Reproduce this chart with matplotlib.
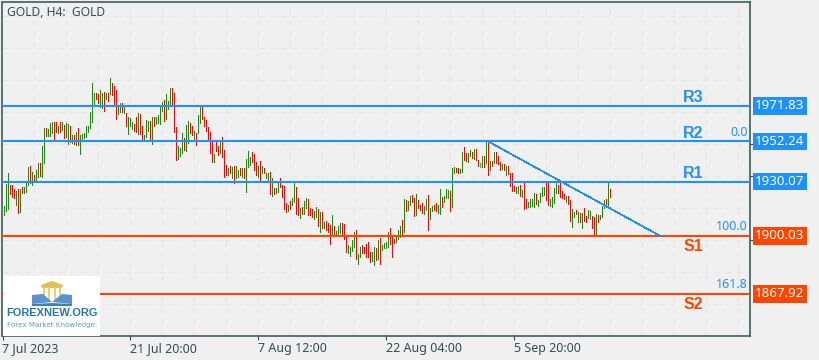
import matplotlib
matplotlib.use('Agg')
import matplotlib.pyplot as plt
from matplotlib.patches import Rectangle, Polygon

# high / low of every H4 bar
bar_high = [
    1916.6, 1928.7, 1934.8, 1928.2, 1928.2, 1926.0, 1924.9, 1926.0, 1926.0, 1927.1,
    1927.1, 1929.3, 1938.1, 1938.7, 1935.4, 1933.7, 1936.5, 1940.3, 1940.3, 1949.7,
    1959.7, 1959.7, 1959.1, 1962.4, 1963.0, 1963.0, 1963.0, 1960.8, 1963.0, 1963.0,
    1961.3, 1962.4, 1961.9, 1960.8, 1955.8, 1955.8, 1957.5, 1959.7, 1955.8, 1956.4,
    1956.9, 1960.8, 1960.8, 1968.5, 1984.5, 1979.0, 1979.0, 1978.5, 1980.7, 1979.0,
    1979.6, 1979.0, 1979.0, 1987.3, 1984.5, 1982.9, 1980.7, 1971.8, 1973.5, 1973.5,
    1971.3, 1968.0, 1965.8, 1965.2, 1963.0, 1961.9, 1965.8, 1968.0, 1967.4, 1960.8,
    1955.8, 1964.1, 1963.5, 1963.5, 1965.8, 1965.8, 1965.8, 1966.9, 1971.3, 1974.0,
    1975.1, 1978.5, 1974.6, 1981.8, 1981.8, 1979.0, 1960.2, 1949.7, 1948.6, 1956.9,
    1954.2, 1961.3, 1963.5, 1962.4, 1960.8, 1958.0, 1956.9, 1966.9, 1971.8, 1971.8,
    1965.8, 1964.1, 1960.2, 1957.5, 1953.1, 1945.3, 1951.9, 1949.7, 1952.5, 1954.7,
    1947.5, 1939.2, 1937.6, 1938.7, 1938.1, 1938.7, 1938.7, 1936.5, 1937.6, 1937.6,
    1937.6, 1942.6, 1947.0, 1943.7, 1946.4, 1945.3, 1940.9, 1938.7, 1941.4, 1938.7,
    1937.6, 1934.8, 1934.8, 1935.4, 1932.1, 1926.5, 1926.5, 1929.8, 1932.1, 1928.2,
    1927.6, 1918.2, 1917.1, 1919.3, 1921.0, 1929.8, 1927.1, 1921.0, 1915.5, 1916.0,
    1919.3, 1921.0, 1920.4, 1915.5, 1914.9, 1913.8, 1916.0, 1914.9, 1913.3, 1913.3,
    1907.7, 1908.3, 1907.2, 1906.1, 1911.6, 1905.5, 1902.8, 1905.5, 1907.2, 1907.2,
    1906.6, 1899.4, 1895.0, 1893.9, 1897.8, 1902.2, 1903.3, 1890.0, 1893.9, 1895.0,
    1893.9, 1895.6, 1896.7, 1891.1, 1891.1, 1893.9, 1893.4, 1897.8, 1898.9, 1895.0,
    1896.1, 1896.7, 1902.2, 1904.4, 1899.4, 1898.3, 1899.4, 1903.3, 1905.5, 1908.8,
    1920.4, 1919.9, 1919.3, 1922.1, 1922.6, 1921.0, 1923.2, 1919.9, 1917.1, 1918.2,
    1916.6, 1920.4, 1922.6, 1915.5, 1916.6, 1917.1, 1918.2, 1917.1, 1926.0, 1921.5,
    1922.1, 1926.0, 1925.4, 1924.9, 1937.6, 1938.1, 1937.6, 1937.6, 1937.0, 1946.4,
    1949.2, 1945.9, 1945.9, 1947.5, 1946.4, 1948.1, 1948.1, 1942.0, 1940.3, 1944.2,
    1944.2, 1951.9, 1951.9, 1941.4, 1941.4, 1946.4, 1946.4, 1944.2, 1940.9, 1939.8,
    1939.8, 1938.7, 1938.7, 1934.8, 1934.8, 1927.6, 1927.1, 1927.6, 1928.2, 1925.4,
    1929.3, 1920.4, 1918.8, 1920.4, 1920.4, 1923.8, 1923.2, 1919.9, 1923.8, 1927.1,
    1927.1, 1929.8, 1929.8, 1920.4, 1921.5, 1926.5, 1929.8, 1928.2, 1929.8, 1924.9,
    1923.2, 1922.1, 1922.1, 1919.9, 1914.9, 1913.3, 1914.4, 1913.3, 1912.7, 1912.7,
    1915.5, 1911.0, 1914.4, 1913.8, 1911.0, 1910.5, 1912.2, 1911.6, 1911.6, 1916.6,
    1919.9, 1920.4, 1929.8, 1926.0,
]
bar_low = [
    1911.6, 1913.8, 1914.9, 1923.2, 1921.5, 1921.0, 1917.1, 1912.7, 1913.3, 1923.8,
    1923.8, 1924.3, 1928.2, 1929.3, 1928.2, 1930.9, 1929.8, 1932.6, 1933.2, 1932.6,
    1940.3, 1955.3, 1955.3, 1955.3, 1956.9, 1953.6, 1957.5, 1956.9, 1957.5, 1958.6,
    1954.2, 1954.7, 1950.8, 1951.9, 1951.4, 1950.8, 1950.3, 1950.3, 1945.3, 1953.1,
    1954.2, 1954.7, 1957.5, 1959.7, 1963.0, 1971.8, 1975.7, 1973.5, 1971.3, 1970.7,
    1969.1, 1975.7, 1974.6, 1978.5, 1977.9, 1972.4, 1964.6, 1967.4, 1968.5, 1968.5,
    1968.0, 1960.8, 1956.4, 1960.8, 1959.1, 1958.0, 1957.5, 1956.4, 1956.4, 1953.1,
    1953.1, 1954.7, 1958.0, 1953.1, 1950.8, 1960.8, 1961.9, 1962.4, 1961.9, 1969.1,
    1963.5, 1964.6, 1970.2, 1971.8, 1971.8, 1957.5, 1942.0, 1942.6, 1944.2, 1945.9,
    1947.5, 1947.0, 1951.4, 1956.9, 1955.8, 1953.1, 1950.3, 1956.9, 1962.4, 1964.6,
    1960.8, 1958.0, 1953.6, 1945.9, 1940.9, 1940.9, 1947.0, 1944.8, 1945.9, 1943.7,
    1932.6, 1933.7, 1933.7, 1934.8, 1932.1, 1929.3, 1932.1, 1932.6, 1933.7, 1932.6,
    1932.1, 1924.3, 1938.1, 1939.2, 1940.9, 1936.5, 1933.7, 1932.6, 1930.9, 1934.8,
    1934.8, 1932.1, 1930.9, 1923.2, 1922.1, 1923.2, 1923.8, 1924.3, 1927.1, 1921.5,
    1914.9, 1913.3, 1913.8, 1914.9, 1917.1, 1918.8, 1912.2, 1911.6, 1909.9, 1912.2,
    1912.2, 1915.5, 1911.6, 1911.6, 1910.5, 1909.4, 1910.5, 1905.5, 1902.2, 1904.4,
    1904.4, 1903.3, 1902.2, 1895.6, 1900.5, 1900.5, 1900.0, 1900.5, 1901.7, 1900.5,
    1898.3, 1891.1, 1890.6, 1888.9, 1891.7, 1893.9, 1887.3, 1884.5, 1888.4, 1890.6,
    1890.6, 1888.4, 1888.4, 1885.6, 1886.2, 1884.0, 1886.7, 1887.3, 1884.5, 1892.3,
    1893.4, 1893.4, 1893.9, 1895.6, 1888.4, 1896.1, 1896.7, 1898.3, 1899.4, 1900.5,
    1902.2, 1913.8, 1914.4, 1917.1, 1918.8, 1911.0, 1911.6, 1915.5, 1914.4, 1912.7,
    1912.2, 1914.4, 1903.3, 1909.4, 1913.8, 1914.4, 1913.8, 1912.7, 1912.2, 1916.0,
    1918.8, 1921.0, 1921.0, 1913.8, 1916.0, 1934.8, 1935.4, 1934.8, 1934.8, 1935.4,
    1942.0, 1941.4, 1940.9, 1944.2, 1943.1, 1942.6, 1942.0, 1938.7, 1938.1, 1938.1,
    1938.1, 1940.3, 1933.7, 1936.5, 1938.7, 1940.3, 1940.3, 1939.8, 1936.5, 1937.0,
    1936.5, 1933.7, 1934.3, 1927.6, 1924.9, 1924.9, 1923.8, 1923.8, 1922.1, 1921.5,
    1914.9, 1915.5, 1916.0, 1916.0, 1916.6, 1916.0, 1917.7, 1916.6, 1918.8, 1922.1,
    1922.6, 1919.9, 1917.1, 1916.6, 1916.0, 1918.2, 1923.8, 1923.8, 1921.5, 1921.0,
    1920.4, 1918.8, 1917.7, 1908.3, 1905.0, 1910.5, 1912.2, 1907.7, 1907.7, 1904.4,
    1908.3, 1907.7, 1909.9, 1909.4, 1904.4, 1900.5, 1900.5, 1907.7, 1909.4, 1910.5,
    1915.5, 1916.0, 1916.6, 1921.5,
]
# g = up bar, r = down bar, l = the one lime bar
bar_kind = (
    'gggrrrgrgr' 'gggrgrggrg' 'grgggrrgrg' 'rggrgrgrgg' 'ggggggrrgg'
    'rgrgrrrggr' 'grgggrrgrr' 'gggrgrgggg' 'rgggrrrggg' 'rggrrgrggr'
    'rrrrrgrrgr' 'rrgrgrggrg' 'rgggrrrgrg' 'rggrgrggrr' 'rrgrggrrgr'
    'ggrrrggrgr' 'grrrgrgggr' 'rrggggrggr' 'rrrrggrgrg' 'gggrrrgggr'
    'grggrrgrrr' 'ggrggrrggr' 'gggrggrrgg' 'rrggrgrrlg' 'rgrgrgrrrg'
    'rgrrrrggrg' 'rrggggrggg' 'grrggggrrr' 'rgrrggrgrg' 'rrggrrgrgggrgr'
)

r_levels = [('R3', 1971.83), ('R2', 1952.24), ('R1', 1930.07)]
s_levels = [('S1', 1900.03), ('S2', 1867.92)]
fibo_labels = [('0.0', 1952.24), ('100.0', 1900.03), ('161.8', 1867.92)]
fibo_trend_bars = [242, 328]
fibo_trend_prices = [1952.24, 1900.03]

time_ticks = [-1, 63, 127, 191, 255]
time_labels = ['7 Jul 2023', '21 Jul 20:00', '7 Aug 12:00', '22 Aug 04:00', '5 Sep 20:00']
grid_bars = [15, 31, 47, 63, 79, 95, 111, 127, 143, 159, 175, 191, 207, 223,
             239, 255, 271, 287, 303, 319, 335, 351, 367]
grid_prices = [2021.6, 2003.9, 1986.2, 1968.5, 1950.8, 1933.2, 1915.5, 1897.8, 1880.1, 1862.4]
price_ticks = [1950.8, 1933.2, 1897.8]

BG = '#f0f0f0'
FRAME = '#2f4f4f'
BLUE = '#1e90ff'
ORANGE = '#ff4500'
COLORS = {'g': '#1c8c10', 'r': '#ff0000', 'l': '#22e022'}
TEXT_FONT = ['Noto Sans', 'DejaVu Sans']

fig = plt.figure(figsize=(8.2, 3.6), dpi=100, facecolor=BG)
ax = fig.add_axes([2.5 / 820, 24 / 360, 747.5 / 820, 334 / 360], facecolor=BG)
ax.set_xlim(-0.75, 373)
ax.set_ylim(1844.7, 2029.3)

# faint dashed grid
ax.vlines(grid_bars, 1844.7, 2029.3, color='#e6e6e6', lw=1, ls=(0, (4, 4)), zorder=1)
ax.hlines(grid_prices, -0.75, 373, color='#e6e6e6', lw=1, ls=(0, (4, 4)), zorder=1)

# bars, aliased so they stay one pixel column wide like the terminal draws them
for i, kind in enumerate(bar_kind):
    ax.vlines(i, bar_low[i], bar_high[i], color=COLORS[kind], lw=0.72,
              antialiased=False, zorder=2)

for name, price in r_levels:
    ax.axhline(price, color=BLUE, lw=1.5, zorder=3)
for name, price in s_levels:
    ax.axhline(price, color=ORANGE, lw=1.5, zorder=3)

ax.plot(fibo_trend_bars, fibo_trend_prices, color=BLUE, lw=0.5, antialiased=False, zorder=3)

# level names sit above the blue lines and below the red ones
for name, price in r_levels:
    ax.annotate(name, xy=(344.5, price), xytext=(0, 0.5), textcoords='offset points',
                ha='center', va='bottom', color=BLUE, fontsize=11.5, fontweight='bold',
                family='Liberation Sans', zorder=5)
for name, price in s_levels:
    ax.annotate(name, xy=(344.5, price), xytext=(0, -2), textcoords='offset points',
                ha='center', va='top', color=ORANGE, fontsize=11.5, fontweight='bold',
                family='Liberation Sans', zorder=5)
for name, price in fibo_labels:
    ax.annotate(name, xy=(1, price), xycoords=('axes fraction', 'data'), xytext=(-1.5, 2),
                textcoords='offset points', ha='right', va='bottom', color=BLUE,
                fontsize=9, family=TEXT_FONT, zorder=5)

# price boxes right of the frame
for levels, color in ((r_levels, BLUE), (s_levels, ORANGE)):
    for name, price in levels:
        ax.annotate('%.2f' % price, xy=(1, price), xycoords=('axes fraction', 'data'),
                    xytext=(3.5, 0), textcoords='offset points', ha='left', va='center',
                    color='white', fontsize=9.6, family=TEXT_FONT,
                    bbox=dict(boxstyle='square,pad=0.17', fc=color, ec='none'))

for side in ax.spines.values():
    side.set_color(FRAME)
    side.set_linewidth(1.1)
ax.set_xticks(time_ticks)
ax.set_xticklabels(time_labels, ha='left', color=FRAME, fontsize=9, family=TEXT_FONT)
ax.tick_params(axis='x', length=3, width=0.8, color=FRAME, pad=1)
ax.yaxis.tick_right()
ax.set_yticks(price_ticks)
ax.set_yticklabels([])
ax.tick_params(axis='y', length=3, width=0.8, color=FRAME)

ax.text(5 / 747.5, 1 - 10 / 334, 'GOLD, H4:  GOLD', transform=ax.transAxes, ha='left',
        va='center', color=FRAME, fontsize=8.7, family=TEXT_FONT, zorder=6)

# logo box, drawn in figure pixels
logo = fig.add_axes([0, 0, 1, 1], facecolor='none')
logo.set_xlim(0, 820)
logo.set_ylim(360, 0)
logo.axis('off')
logo.add_patch(Rectangle((3, 276), 97, 60, fc='white', ec='none'))
logo.add_patch(Polygon([(41, 285), (52, 281), (63, 285), (62, 288), (42, 288)], fc='#e0c050', ec='none'))
for px in (44, 49, 55, 60):
    logo.add_patch(Rectangle((px - 1.2, 287), 2.6, 14, fc='#e8cf7a', ec='none'))
logo.add_patch(Polygon([(32, 304), (52, 303), (52, 306), (32, 306)], fc='#3f7fc0', ec='none'))
logo.add_patch(Polygon([(32, 295), (43, 294), (52, 302), (32, 304)], fc='#5b93cc', ec='none'))
logo.add_patch(Polygon([(72, 295), (62, 294), (52, 302), (72, 304)], fc='#5b93cc', ec='none'))
logo.add_patch(Polygon([(52, 303), (72, 304), (72, 306), (52, 306)], fc='#3f7fc0', ec='none'))
logo.text(52, 313, 'FOREXNEW.ORG', ha='center', va='center', color='#1f78b4',
          fontsize=7.9, fontweight='bold', family='Liberation Sans')
logo.text(52, 325, 'Forex Market Knowledge.', ha='center', va='center', color='#5a9bd0',
          fontsize=5.1, family='DejaVu Sans')

fig.savefig('out.png', dpi=100, facecolor=BG)
